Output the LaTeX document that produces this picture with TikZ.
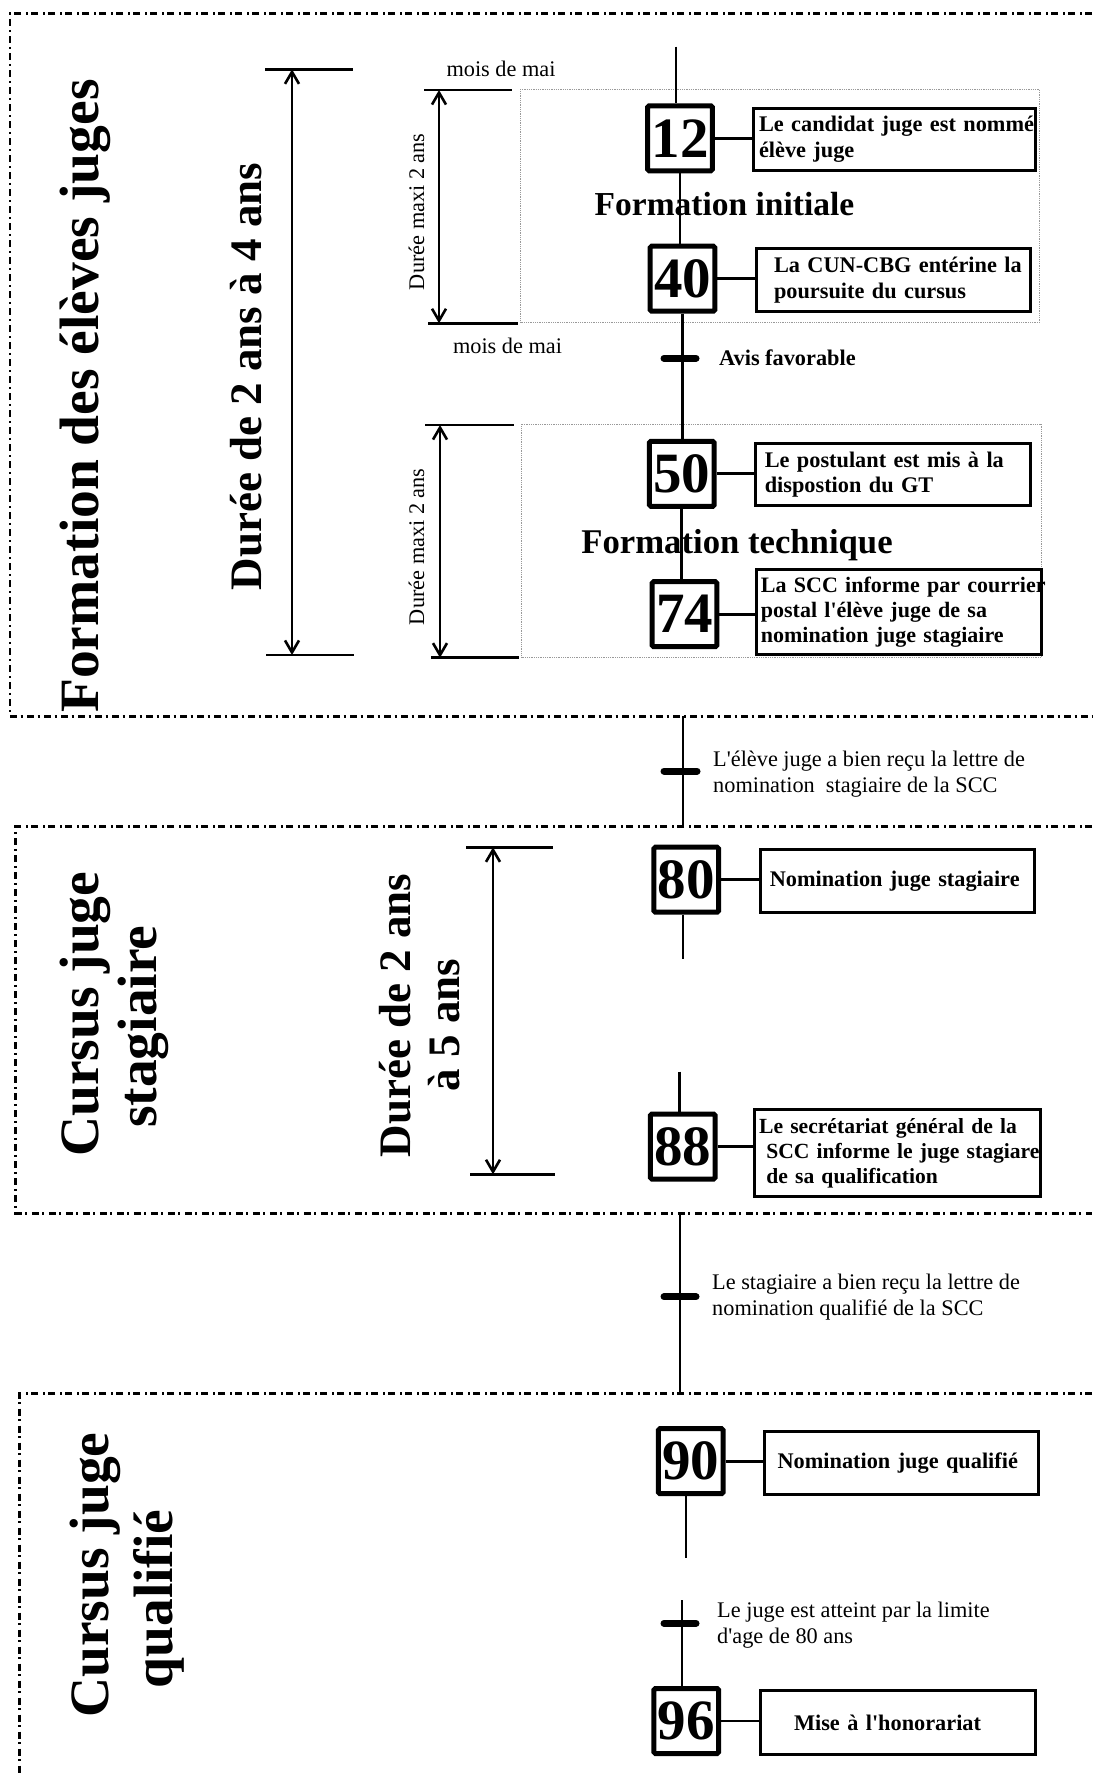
\documentclass[tikz,border=0pt]{standalone}
\usepackage{fontspec}
\setmainfont{Liberation Serif}[Ligatures=TeXOff]
\usetikzlibrary{arrows.meta}
\begin{document}
\begin{tikzpicture}[x=1pt,y=-1pt,
  sect/.style={line width=2.6pt, dash pattern=on 7pt off 3.5pt on 2pt off 4.5pt},
  grp/.style={draw=gray!80, line width=0.8pt, dash pattern=on 1pt off 0.8pt},
  stepbox/.style={draw, line width=5pt, rounded corners=1.5pt, minimum width=64.7pt, minimum height=65pt, inner sep=0pt, font=\fontsize{57}{57}\selectfont\bfseries},
  lbl/.style={draw, line width=3pt, align=left, inner ysep=0pt, font=\fontsize{22.3}{25.3}\selectfont\bfseries},
  link/.style={line width=2.8pt},
  bar/.style={line width=7pt, line cap=round},
  dim/.style={line width=2.6pt},
  dimarr/.style={line width=2.6pt, {Straight Barb[length=12pt,width=14pt]}-{Straight Barb[length=12pt,width=14pt]}},
  reg/.style={font=\fontsize{22.3}{26}\selectfont, inner sep=0pt},
  bigt/.style={rotate=90, inner sep=0pt, font=\fontsize{55.5}{58}\selectfont\bfseries},
  durt/.style={rotate=90, inner sep=0pt, font=\fontsize{45}{49}\selectfont\bfseries},
]
\useasboundingbox (0,0) rectangle (1092,1774);

% sections
\draw[sect] (1092,13.3) -- (10,13.3) -- (10,716.3) -- (1092,716.3);
\draw[sect] (1092,826.7) -- (15.7,826.7) -- (15.7,1213.3) -- (1092,1213.3);
\draw[sect] (1092,1393.3) -- (19.3,1393.3) -- (19.3,1774);

% dotted groups
\draw[grp] (520,89.3) rectangle (1039.5,322.7);
\draw[grp] (521,424.3) rectangle (1041,657.7);

% titles
\node[bigt, anchor=base] (t1) at (98,396) {Formation des élèves juges};
\node[bigt, align=center] (t2) at (114.75,1026.7) {\hspace*{25pt}Cursus juge\\stagiaire};
\node[bigt, align=center, font=\fontsize{55.5}{64}\selectfont\bfseries] (t3) at (126.75,1599) {\hspace*{48pt}Cursus juge\\qualifié};

% durations
\node[durt, anchor=base] (d1) at (261,376.7) {Durée de 2 ans à 4 ans};
\node[durt, align=center] (d2) at (419.75,1025) {\hspace*{19pt}Durée de 2 ans\\à 5 ans};
\node[reg, rotate=90, anchor=base] (m1) at (424,211.7) {Durée maxi 2 ans};
\node[reg, rotate=90, anchor=base] (m2) at (424,546.7) {Durée maxi 2 ans};

% dimension lines
\draw[dim] (265,69.3) -- (353,69.3);
\draw[dim] (266,655) -- (354,655);
\draw[dimarr] (292,69.3) -- (292,655);
\draw[dim] (424,90) -- (512,90);
\draw[dim] (428,323.3) -- (518,323.3);
\draw[dimarr] (439,90) -- (439,323.3);
\draw[dim] (425,425) -- (514,425);
\draw[dim] (431,657.7) -- (519,657.7);
\draw[dimarr] (440,425) -- (440,657.7);
\draw[dim] (466,847.3) -- (553,847.3);
\draw[dim] (470,1174.3) -- (555,1174.3);
\draw[dimarr] (493,847.3) -- (493,1174.3);

% mois de mai
\node[reg, anchor=base] (mm1) at (501,76.5) {mois de mai};
\node[reg, anchor=base] (mm2) at (507.5,353) {mois de mai};

% steps
\node[stepbox] (S12) at (680,138.3) {12};
\node[stepbox] (S40) at (682.5,278.7) {40};
\node[stepbox] (S50) at (681.8,473.8) {50};
\node[stepbox] (S74) at (684.5,614.2) {74};
\node[stepbox] (S80) at (686.2,879.7) {80};
\node[stepbox] (S88) at (682.7,1146.5) {88};
\node[stepbox] (S90) at (690.8,1461.2) {90};
\node[stepbox] (S96) at (686.2,1721) {96};

% labels
\node[lbl, text width=271pt, inner xsep=5.5pt, minimum height=62pt] (L12) at (894.5,139.2)
  {\mbox{Le candidat juge est nommé}\\\mbox{élève juge}};
\node[lbl, text width=239pt, inner xsep=17.5pt, minimum height=62.4pt] (L40) at (893.5,280)
  {\mbox{La CUN-CBG entérine la}\\\mbox{poursuite du cursus}};
\node[lbl, text width=256.5pt, inner xsep=9pt, minimum height=62pt] (L50) at (893,474.8)
  {\mbox{Le postulant est mis à la}\\\mbox{dispostion du GT}};
\node[lbl, text width=276.4pt, inner xsep=4.5pt, minimum height=84.7pt, font=\fontsize{22}{25.3}\selectfont\bfseries] (L74) at (899.1,612.2)
  {\mbox{La SCC informe par courrier}\\\mbox{postal l'élève juge de sa}\\\mbox{nomination juge stagiaire}};
\node[lbl, text width=255.8pt, inner xsep=9.2pt, minimum height=63pt] (L80) at (897.7,881.3)
  {Nomination juge stagiaire};
\node[lbl, text width=276.6pt, inner xsep=5.1pt, minimum height=87pt, font=\fontsize{21.6}{25}\selectfont\bfseries] (L88) at (897.4,1153.3)
  {\mbox{Le secrétariat général de la}\\\mbox{\ SCC informe le juge stagiare}\\\mbox{\ de sa qualification}};
\node[lbl, text width=247.9pt, inner xsep=12.8pt, minimum height=62.7pt] (L90) at (901.55,1462.85)
  {Nomination juge qualifié};
\node[lbl, text width=207.4pt, inner xsep=33.8pt, minimum height=63.7pt] (L96) at (897.7,1722.65)
  {Mise à l'honorariat};

% step to label links
\foreach \s/\l in {S12/L12,S40/L40,S50/L50,S74/L74,S80/L80,S88/L88,S90/L90,S96/L96}
  \draw[link] (\s.east) -- (\s.east -| \l.west);

% phase titles
\node[anchor=base, inner sep=0pt, font=\fontsize{33.5}{40}\selectfont\bfseries] (fi) at (724.5,215) {Formation initiale};
\node[anchor=base, inner sep=0pt, font=\fontsize{34.7}{40}\selectfont\bfseries] (ft) at (737,553.3) {Formation technique};

% main line
\coordinate (top) at (676,46.7);
\draw[link] (top) -- (top |- S12.north);
\draw[link] (S12.south) -- (S12.south |- S40.north);
\draw[link] (S40.south) -- (S40.south |- S50.north);
\draw[link] (S50.south) -- (S50.south |- S74.north);
\coordinate (j1a) at (683,716.3);
\coordinate (j1b) at (683,826.7);
\draw[link] (j1a) -- (j1b);
\coordinate (c80) at (683,959.3);
\draw[link] (c80 |- S80.south) -- (c80);
\coordinate (c88) at (679.4,1071.7);
\draw[link] (c88) -- (c88 |- S88.north);
\coordinate (j2a) at (680,1213.3);
\coordinate (j2b) at (680,1393.3);
\draw[link] (j2a) -- (j2b);
\coordinate (c90) at (686,1558.3);
\draw[link] (c90 |- S90.south) -- (c90);
\coordinate (c96) at (682,1600);
\draw[link] (c96) -- (c96 |- S96.north);

% transition bars
\draw[bar] (664,358.3) -- (696,358.3);
\draw[bar] (664,771) -- (697,771);
\draw[bar] (664,1296.7) -- (696,1296.7);
\draw[bar] (664,1623.3) -- (696,1623.3);

% transition texts
\node[anchor=base west, inner sep=0pt, font=\fontsize{22.3}{26}\selectfont\bfseries] (av) at (719,365) {Avis favorable};
\node[reg, anchor=north west, align=left] (T1) at (713,751.2)
  {L'élève juge a bien reçu la lettre de\\nomination~ stagiaire de la SCC};
\node[reg, anchor=north west, align=left] (T2) at (712,1273.8)
  {Le stagiaire a bien reçu la lettre de\\nomination qualifié de la SCC};
\node[reg, anchor=north west, align=left] (T3) at (717,1602.2)
  {Le juge est atteint par la limite\\d'age de 80 ans};
\end{tikzpicture}
\end{document}
